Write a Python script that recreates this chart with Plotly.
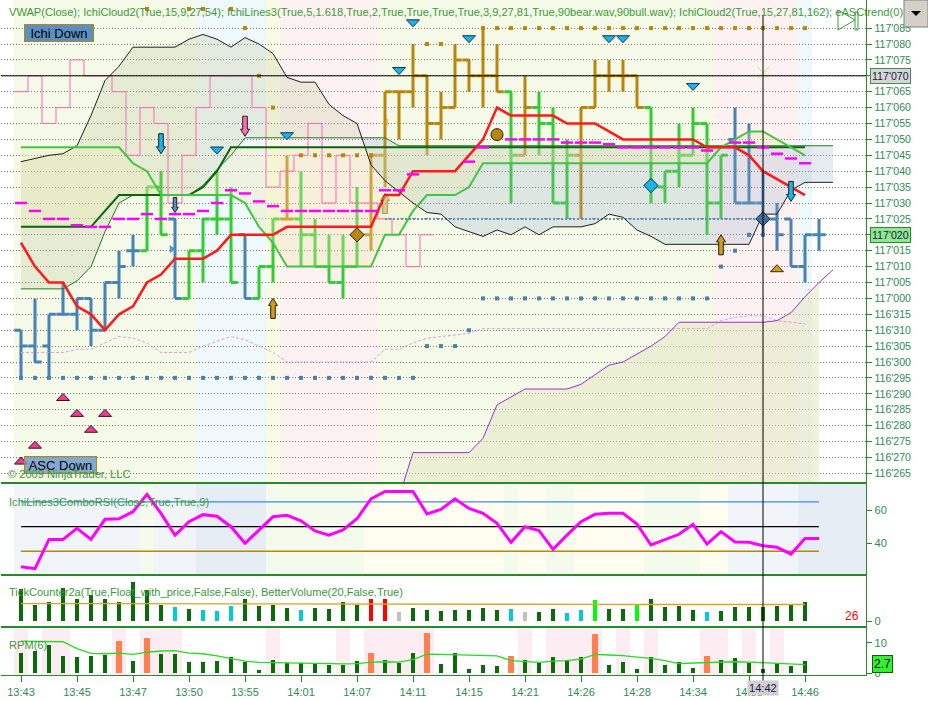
import plotly.graph_objects as go

# ================= DATA =================
# bar index (tick bars), price in 1/64 steps above 116'265
bar_idx = list(range(58))
opens  = [9, 8, 8, 10, 10, 11, 9, 12, 14, 14, 18, 16, 11, 14, 16, 16, 15, 11, 13, 16,
          16, 15, 13, 12, 13, 15, 20, 24, 24, 25, 22, 23, 26, 25, 25, 24, 20, 23, 22, 17,
          20, 23, 25, 25, 25, 23, 18, 19, 20, 22, 17, 21, 17, 17, 16, 16, 13, 15]
highs  = [9, 11, 10, 12, 11, 11, 12, 14, 15, 18, 19, 16, 14, 16, 19, 18, 15, 13, 16, 20,
          19, 16, 15, 15, 18, 20, 24, 24, 27, 25, 24, 27, 26, 28, 27, 24, 25, 24, 23, 21,
          23, 26, 26, 26, 25, 23, 19, 22, 23, 22, 20, 23, 22, 19, 17, 16, 15, 16]
lows   = [6, 7, 6, 10, 9, 8, 9, 11, 13, 14, 15, 11, 11, 12, 15, 12, 11, 11, 12, 16,
          13, 13, 12, 11, 13, 14, 18, 21, 23, 20, 21, 23, 24, 23, 24, 17, 20, 20, 17, 16,
          16, 23, 24, 24, 23, 17, 17, 18, 20, 15, 16, 17, 17, 15, 14, 13, 12, 14]
closes = [8, 7, 10, 10, 11, 9, 12, 13, 14, 18, 15, 11, 14, 16, 16, 12, 11, 13, 16, 16,
          15, 13, 12, 13, 15, 20, 24, 24, 25, 22, 23, 26, 25, 25, 24, 20, 23, 22, 17, 20,
          23, 25, 25, 25, 23, 18, 19, 20, 22, 17, 20, 17, 17, 16, 15, 13, 15, 15]
bar_trend = (["down"] * 9 + ["up"] * 2 + ["down"] + ["up"] * 4 + ["down"] + ["up"] * 2 + ["hold"]
             + ["up"] * 5 + ["hold"] * 10 + ["up"] + ["hold"] + ["up"] * 3 + ["hold"] * 5
             + ["up"] * 6 + ["down"] * 7)

price_ticks = list(range(29))
price_labels = ["116'265", "116'270", "116'275", "116'280", "116'285", "116'290", "116'295",
                "116'300", "116'305", "116'310", "116'315", "117'000", "117'005", "117'010",
                "117'015", "117'020", "117'025", "117'030", "117'035", "117'040", "117'045",
                "117'050", "117'055", "117'060", "117'065", "117'070", "117'075", "117'080",
                "117'085"]

# Ichimoku / overlay lines (per bar)
span_black = [19.6, 19.8, 20.0, 20.1, 20.6, 22.5, 24.7, 25.6, 26.8, 26.8, 26.8, 26.8, 27.3, 27.6,
              27.3, 26.8, 27.4, 27.0, 26.4, 24.9, 24.6, 24.6, 23.2, 22.5, 22.0, 19.4, 18.4, 17.7,
              17.0, 16.4, 16.3, 15.5, 15.2, 14.9, 15.3, 15.0, 15.5, 15.0, 15.5, 15.5, 15.5, 15.7,
              16.3, 16.1, 15.3, 14.9, 14.4, 14.4, 14.4, 14.4, 14.4, 14.4, 14.4, 16.3, 16.3, 17.8,
              18.3, 18.3, 18.3]
span_thin = [11.6, 11.6, 11.6, 11.6, 12.1, 13.0, 15.2, 17.0, 17.5, 17.5, 17.5, 17.5, 17.5, 18.1,
             19.1, 20.0, 21.1, 21.1, 21.1, 21.1, 21.1, 21.1, 21.1, 21.1, 21.1, 21.1, 21.1, 20.6,
             20.6, 20.6, 20.6, 20.6, 20.6, 20.6, 20.6, 20.6, 20.6, 20.6, 20.6, 20.6, 20.6, 20.6,
             20.6, 20.6, 20.6, 20.6, 20.6, 20.6, 20.6, 20.6, 20.6, 20.6, 20.6, 20.6, 20.6, 20.6,
             20.6, 20.6, 20.6]
kijun_dark = [15.5, 15.5, 15.5, 15.5, 15.5, 15.5, 16.5, 17.5, 17.5, 17.5, 17.5, 17.5, 17.5, 18,
              19, 20.5, 20.5, 20.5, 20.5, 20.5, 20.5, 20.5, 20.5, 20.5, 20.5, 20.5, 20.5, 20.5,
              20.5, 20.5, 20.5, 20.5, 20.5, 20.5, 20.5, 20.5, 20.5, 20.5, 20.5, 20.5, 20.5, 20.5,
              20.5, 20.5, 20.5, 20.5, 20.5, 20.5, 20.5, 20.5, 20.5, 20.5, 20.5, 20.5, 20.5, 20.5,
              20.5]
kijun_light = [20.5, 20.5, 20.5, 20.5, 20.5, 20.5, 20.5, 20.5, 19.5, 19, 17.5, 17.5, 17.5, 17.5,
               17.5, 17.5, 17, 15.5, 14.5, 13, 13, 13, 13, 13, 13, 13, 15, 15, 16.5, 17.5, 17.5,
               17.5, 18, 19.5, 19.5, 19.5, 19.5, 19.5, 19.5, 19.5, 19.5, 19.5, 19.5, 19.5, 19.5,
               19.5, 19.5, 19.5, 19.5, 19.5, 20.5, 21, 21.5, 21.5, 21, 20.5, 20]
tenkan_red = [14.5, 13, 12, 12, 10.5, 10, 9, 10, 10.5, 12, 12.5, 13.5, 13.5, 13.5, 14, 15, 15, 15,
              15, 15.5, 15.5, 15.5, 15.5, 15.5, 15.5, 15.5, 17.5, 17.5, 19, 19, 19, 19, 20, 21,
              23, 22.5, 22.5, 22.5, 22.5, 22, 22, 22, 21.5, 21, 21, 21, 21, 21, 21, 20.5, 20.5,
              20.5, 20, 19, 18.5, 18, 17.5]
chikou_pink = [24, 25, 22, 23, 26, 25, 25, 24, 20, 23, 22, 17, 20, 23, 25, 25, 25, 23, 18, 19,
               20, 22, 17, 20, 17, 17, 16, 15, 13, 15]
kijun_dash = [17, 16.5, 16, 16, 15.6, 15.5, 15.5, 16, 16, 16.3, 16, 16.3, 16.3, 16.5, 17, 17.8,
              17.6, 17.1, 16.8, 16.5, 16.5, 16.5, 16.5, 16.5, 16.5, 16.5, 17.8, 17.8, 18.8, None,
              None, None, 19.6, 20.5, 21.2, 21.0, 21.0, 21.0, 21.0, 20.8, 20.8, 20.8, 20.7, 20.5,
              20.5, 20.5, 20.5, 20.5, 20.5, 20.3, None, 20.8, 20.8, 20.5, 20.1, 19.8, 19.5]
vwap_plum = [7.6, 7.6, 7.6, 7.6, 7.8, 7.8, 8.2, 8.6, 8.5, 8.2, 7.6, 7.6, 7.6, 8.0, 8.3, 8.6, 8.4,
             8.0, 7.6, 7.0, 7.0, 7.0, 7.0, 7.0, 7.0, 7.0, 7.8, 7.8, 8.2, 8.5, 8.6, 8.7, 8.8, 9.1,
             9.1, 9.1, 9.1, 9.1, 9.1, 9.1, 9.1, 9.1, 9.1, 9.1, 9.1, 9.1, 9.1, 9.1, 9.1, 9.1, 9.6,
             9.8, 9.9, 9.9, 9.6, 9.5, 9.4]
purple_x = list(range(27, 59))
purple_v = [-1.5, 1.3, 1.3, 1.3, 1.3, 1.3, 2.2, 4.3, 4.8, 5.3, 5.3, 5.3, 5.3, 5.6, 6.2, 6.8, 7.0,
            7.5, 8.0, 8.6, 9.5, 9.5, 9.5, 9.5, 9.5, 9.5, 9.5, 9.6, 10.1, 11.1, 12.0, 12.8]
stop_blue = [6] * 29 + [8, 8, 8, 9] + [11] * 17 + [13, 14, 15, 15]
stop_gold_x = [9, 12, 13, 15, 16, 17, 18, 20, 21, 22, 23, 24, 25, 29, 30] + list(range(33, 57))
stop_gold_v = [29.2, 29.2, 29.2, 29.2, 28, 25, 23, 20, 20, 20, 20, 20, 20, 27, 27] + [28] * 24
ichi_level_x = [26, 53]
ichi_level_v = [16, 16]

# signal markers
tri_down_x = [14, 19, 27, 28, 32, 42, 43, 48]
tri_down_v = [20.3, 21.2, 25.3, 28.3, 27.3, 27.3, 27.3, 24.3]
asc_up_x = [0, 1, 3, 4, 5, 6]
asc_up_v = [0.8, 1.8, 4.8, 3.8, 2.8, 3.8]
gold_up_x, gold_up_v = [54], [12.9]
arrows = [  # bar, tip value, direction, kind
    (10, 20.1, "down", "cyan"), (11, 16.4, "down", "steel"), (16, 21.2, "down", "pink"),
    (55, 17.1, "down", "cyan"), (18, 11.0, "up", "gold"), (50, 15.0, "up", "gold"),
    (26, 17.6, "up", "goldfaint")]
diamonds = [(45, 18.1, "cyan"), (53, 16.0, "steel"), (24, 15.0, "gold")]
circle_x, circle_v = [34], [21.3]

# lower panels
rsi = [25.6, 24.4, 42.2, 42.2, 48.9, 42.2, 54.4, 54.7, 59, 69.5, 58, 44.7, 52.9, 57.2, 56.2,
       49.9, 39.8, 47.9, 55.9, 56.8, 53.5, 47.3, 44.7, 47.9, 54.7, 66.8, 71.3, 71.3, 71.3, 57.6,
       60.4, 66.8, 61.0, 58, 51.9, 40.4, 49.9, 47.5, 36.2, 44.8, 52.9, 57.4, 58, 58, 51.5, 38.8,
       42.2, 45.3, 51.3, 39.4, 46.9, 40.6, 40.4, 38.4, 37.4, 33.3, 42.8, 42.8]
rsi_levels = [65, 50, 35]
ticks_vol = [32, 16, 19, 33, 22, 26, 22, 19, 39, 31, 16, 14, 12, 11, 10, 15, 22, 15, 16, 13,
             11, 13, 12, 19, 16, 22, 22, 9, 13, 11, 10, 11, 11, 13, 11, 12, 9, 9, 12, 8,
             11, 21, 12, 12, 16, 22, 14, 15, 11, 9, 10, 14, 14, 14, 15, 16, 19]
ticks_type = ["n"] * 57
for _i in [11, 13, 14, 15, 20, 35, 39, 40, 49]:
    ticks_type[_i] = "low"
for _i in [25, 26]:
    ticks_type[_i] = "climax"
for _i in [27, 36]:
    ticks_type[_i] = "churn"
for _i in [41, 44]:
    ticks_type[_i] = "high"
ticks_avg = [17.3, 17.1, 17.0, 17.3, 17.3, 17.3, 17.3, 17.3, 17.3, 17.3, 17.3, 17.3, 17.3, 17.3,
             17.3, 17.3, 17.3, 17.3, 17.3, 17.3, 17.3, 17.3, 17.3, 17.3, 17.3, 17.3, 17.3, 17.3,
             17.3, 17.3, 17.3, 17.3, 17.3, 17.3, 17.3, 17.3, 17.3, 17.3, 17.3, 17.3, 17.3, 17.3,
             16.6, 16.5, 16.5, 16.5, 16.5, 16.5, 16.5, 16.5, 16.5, 16.5, 16.5, 16.5, 16.5, 16.5,
             16.5]
rpm = [6.5, 7.2, 9.4, 5.6, 5.3, 5.6, 5.9, 10.5, 4.2, 11.4, 6.2, 6.2, 3.6, 3.6, 4.2, 5.2, 3.6, 1.0,
       4.5, 3.5, 3.5, 3.5, 2.7, 2.7, 4.2, 6.8, 4.5, 3.5, 6.8, 13.0, 3.2, 6.8, 1.3, 2.9, 2.4, 5.6,
       4.5, 3.5, 5.5, 4.5, 5.3, 12.7, 2.9, 3.8, 1.6, 5.3, 2.9, 3.8, 1.8, 5.6, 4.5, 4.9, 3.5, 1.3,
       3.5, 2.4, 4.0]
rpm_spike = [7, 9, 25, 29, 35, 41, 49]
rpm_avg = [10.5, 10.5, 10.5, 10.3, 8.1, 6.5, 6.4, 6.6, 6.2, 6.9, 7.3, 7.4, 6.6, 6.4, 5.7, 4.9,
           4.0, 3.6, 3.5, 3.5, 3.5, 3.4, 3.1, 3.1, 3.2, 3.7, 3.8, 3.7, 4.5, 6.3, 6.2, 6.1, 6.1,
           6.0, 5.7, 4.2, 3.8, 3.6, 4.0, 4.2, 4.7, 6.2, 6.0, 5.8, 5.3, 4.9, 4.2, 3.2, 3.4, 3.6,
           3.8, 3.8, 3.7, 3.5, 3.4, 3.1, 2.9]
rpm_hot = [0, 2, 3, 7, 9, 10, 11, 18, 23, 25, 26, 27, 28, 29, 36, 38, 39, 40, 41, 43, 45, 49,
           50, 52, 54]

main_state = (["g"] * 13 + ["c"] * 5 + ["y"] + ["p"] * 7 + ["g"] * 24 + ["p"] * 6 + ["c"])
rsi_state = (["b1"] * 9 + ["g"] + ["b1"] * 3 + ["b2"] * 5 + ["g"] * 7 + ["y"] * 10 + ["g"]
             + ["y"] * 2 + ["g"] * 2 + ["y"] * 5 + ["g"] * 4 + ["y"] * 2 + ["b1"] * 5
             + ["b2"] * 5)

time_ticks = [0, 4, 8, 12, 16, 20, 24, 28, 32, 36, 40, 44, 48, 52, 56]
time_labels = ["13:43", "13:45", "13:47", "13:50", "13:55", "14:01", "14:07", "14:11", "14:15",
               "14:21", "14:26", "14:28", "14:34", "14:38", "14:46"]
cursor_bar, cursor_price = 53, 25
cursor_time = "14:42"
last_price = 15
rpm_last = "2.7"
ticks_left = "26"

# ================= STYLE =================
FONT = "Liberation Sans, Arial, sans-serif"
FS = 11.1
AX_GREEN = "#2a8a2a"
TXT_GREEN = "#2e8b57"
TITLE_GREEN = "#3a9a3a"
BAR_COL = {"down": "#4682b4", "up": "#32cd32", "hold": "#b8860b"}
MAIN_BG = {"g": "#f4f9e8", "c": "#eff8fa", "y": "#fafbe6", "p": "#fdf1f1"}
RSI_BG = {"b1": "#f1f5f9", "b2": "#e6edf5", "g": "#f4fbec", "y": "#fffdf0"}
TICK_COL = {"n": "#0b6b0b", "low": "#00ccd6", "climax": "#ff0000", "churn": "#c0c0c0",
            "high": "#00ff00"}
ARROW_COL = {"cyan": ("#18b4ea", 1.0), "steel": ("#5b8fc9", 1.0), "pink": ("#ff6fb0", 1.0),
             "gold": ("#d49a1c", 1.0), "goldfaint": ("#d49a1c", 0.45)}
DIAM_COL = {"cyan": "#1ab4e8", "steel": "#3f6f9f", "gold": "#b8860b"}
PX_X = 14.0    # px per bar
PX_V = 15.9    # px per price step

fig = go.Figure()


def band_shapes(states, colors, xref, yref):
    out = []
    start = 0
    for k in range(1, len(states) + 1):
        if k == len(states) or states[k] != states[start]:
            out.append(dict(type="rect", xref=xref, yref=yref, x0=start - 0.5, x1=k - 0.5,
                            y0=0, y1=1, fillcolor=colors[states[start]], line_width=0,
                            layer="below"))
            start = k
    return out


shapes = []
shapes += band_shapes(main_state, MAIN_BG, "x", "y domain")
shapes += band_shapes(rsi_state, RSI_BG, "x2", "y2 domain")
for b in rpm_hot:
    shapes.append(dict(type="rect", xref="x4", yref="y4 domain", x0=b - 0.5, x1=b + 0.5,
                       y0=0, y1=1, fillcolor="#fdedf2", line_width=0, layer="below"))


# ---------- cloud fills ----------
def split_regions(xs, a, b):
    regions, sign, top, bot = [], None, [], []
    for k in range(len(xs)):
        s = a[k] >= b[k]
        if sign is not None and s != sign:
            d0, d1 = a[k - 1] - b[k - 1], a[k] - b[k]
            t = d0 / (d0 - d1)
            xc = xs[k - 1] + t * (xs[k] - xs[k - 1])
            yc = a[k - 1] + t * (a[k] - a[k - 1])
            top.append((xc, yc)); bot.append((xc, yc))
            regions.append((sign, top, bot))
            top, bot = [(xc, yc)], [(xc, yc)]
        top.append((xs[k], a[k])); bot.append((xs[k], b[k]))
        sign = s
    regions.append((sign, top, bot))
    return regions


xs_span = list(range(len(span_black)))
for sgn, top, bot in split_regions(xs_span, span_black, span_thin):
    px = [p[0] for p in top] + [p[0] for p in reversed(bot)]
    py = [p[1] for p in top] + [p[1] for p in reversed(bot)]
    fig.add_trace(go.Scatter(x=px, y=py, mode="lines", fill="toself", line_width=0,
                             fillcolor="rgba(190,195,145,0.24)" if sgn else "rgba(150,172,200,0.24)",
                             hoverinfo="skip", showlegend=False))

xs_k = list(range(len(kijun_dark)))
fig.add_trace(go.Scatter(x=xs_k, y=kijun_dark, mode="lines", line_width=0, hoverinfo="skip",
                         showlegend=False))
fig.add_trace(go.Scatter(x=xs_k, y=kijun_light, mode="lines", line_width=0, fill="tonexty",
                         fillcolor="rgba(236,232,175,0.32)", hoverinfo="skip", showlegend=False))

# area under purple
fig.add_trace(go.Scatter(x=purple_x[:-1], y=[-1.5] * (len(purple_x) - 1), mode="lines",
                         line_width=0, hoverinfo="skip", showlegend=False))
fig.add_trace(go.Scatter(x=purple_x[:-1], y=purple_v[:-1], mode="lines", line_width=0,
                         fill="tonexty", fillcolor="rgba(228,232,195,0.55)", hoverinfo="skip",
                         showlegend=False))


# ---------- lines ----------
def line(x, y, color, width, dash=None, shape=None, **kw):
    fig.add_trace(go.Scatter(x=x, y=y, mode="lines",
                             line=dict(color=color, width=width, dash=dash,
                                       shape=shape or "linear"),
                             hoverinfo="skip", showlegend=False, **kw))


line(list(range(len(vwap_plum))), vwap_plum, "#dda0dd", 1, dash="3px,2px")
line(purple_x, purple_v, "#9b30d0", 1)
pink_x = [i - 0.5 for i in range(len(chikou_pink))] + [len(chikou_pink) - 0.5]
line(pink_x, chikou_pink + [chikou_pink[-1]], "#ff69b4", 1, shape="hv")
line(ichi_level_x, ichi_level_v, "#5b8fc9", 2, dash="2px,2px")
line(xs_span, span_thin, "#1f7a1f", 1)
line(xs_span, span_black, "#202020", 1)
line(xs_k, kijun_dark, "#0a640a", 2)
line(xs_k, kijun_light, "#44c444", 2)
line(list(range(len(tenkan_red))), tenkan_red, "#ff1a1a", 2.5)

# ---------- price bars ----------
for trend, col in BAR_COL.items():
    sel = [i for i in bar_idx if bar_trend[i] == trend]
    fig.add_trace(go.Ohlc(x=sel, open=[opens[i] for i in sel], high=[highs[i] for i in sel],
                          low=[lows[i] for i in sel], close=[closes[i] for i in sel],
                          increasing=dict(line=dict(color=col, width=3)),
                          decreasing=dict(line=dict(color=col, width=3)),
                          tickwidth=0.48, hoverinfo="skip", showlegend=False))

# kijun dashes
dx, dy = [], []
for i, v in enumerate(kijun_dash):
    if v is None:
        continue
    dx += [i - 0.43, i + 0.43, None]
    dy += [v, v, None]
line(dx, dy, "#ff00ff", 2.5)

# stop dots
fig.add_trace(go.Scatter(x=list(range(len(stop_blue))), y=stop_blue, mode="markers",
                         marker=dict(symbol="square", size=4, color="#4682b4"),
                         hoverinfo="skip", showlegend=False))
fig.add_trace(go.Scatter(x=stop_gold_x, y=stop_gold_v, mode="markers",
                         marker=dict(symbol="square", size=4, color="#b8860b"),
                         hoverinfo="skip", showlegend=False))

# diamonds / circle / small pointers
for b, v, k in diamonds:
    fig.add_trace(go.Scatter(x=[b], y=[v], mode="markers",
                             marker=dict(symbol="diamond", size=11, color=DIAM_COL[k],
                                         line=dict(color="#1a2a3a", width=1)),
                             hoverinfo="skip", showlegend=False))
fig.add_trace(go.Scatter(x=circle_x, y=circle_v, mode="markers",
                         marker=dict(symbol="circle", size=12, color="#b8860b",
                                     line=dict(color="#202020", width=1)),
                         hoverinfo="skip", showlegend=False))
fig.add_trace(go.Scatter(x=[10.75], y=[14.1], mode="markers",
                         marker=dict(symbol="triangle-right", size=7, color="#5b8fc9"),
                         hoverinfo="skip", showlegend=False))
fig.add_trace(go.Scatter(x=[26.1], y=[22.1], mode="markers",
                         marker=dict(symbol="triangle-left", size=7, color="#d49a1c", opacity=0.5),
                         hoverinfo="skip", showlegend=False))
fig.add_trace(go.Scatter(x=[cursor_bar], y=[cursor_price + 0.2], mode="markers",
                         marker=dict(symbol="x-thin-open", size=11,
                                     line=dict(color="#000000", width=1)),
                         hoverinfo="skip", showlegend=False))


def tri_path(x, v, w_px, h_px, up):
    hx, hv = w_px / 2 / PX_X, h_px / 2 / PX_V
    if up:
        return f"M {x-hx},{v-hv} L {x+hx},{v-hv} L {x},{v+hv} Z"
    return f"M {x-hx},{v+hv} L {x+hx},{v+hv} L {x},{v-hv} Z"


for x, v in zip(tri_down_x, tri_down_v):
    shapes.append(dict(type="path", xref="x", yref="y", path=tri_path(x, v, 13, 7, False),
                       fillcolor="#18b4ea", line=dict(color="#17324f", width=1)))
for x, v in zip(asc_up_x, asc_up_v):
    shapes.append(dict(type="path", xref="x", yref="y", path=tri_path(x, v, 13, 7, True),
                       fillcolor="#e8408c", line=dict(color="#3a1020", width=1)))
for x, v in zip(gold_up_x, gold_up_v):
    shapes.append(dict(type="path", xref="x", yref="y", path=tri_path(x, v, 13, 7, True),
                       fillcolor="#d49a1c", line=dict(color="#3a2a10", width=1)))


def arrow_path(x, tip, up, scale=1.0):
    hw, bw = 4.5 * scale / PX_X, 2.3 * scale / PX_X
    hh, H = 7 * scale / PX_V, 20 * scale / PX_V
    s = -1 if up else 1
    pts = [(x, tip), (x - hw, tip + s * hh), (x - bw, tip + s * hh), (x - bw, tip + s * H),
           (x + bw, tip + s * H), (x + bw, tip + s * hh), (x + hw, tip + s * hh)]
    return "M " + " L ".join(f"{a},{b}" for a, b in pts) + " Z"


for b, tip, d, kind in arrows:
    col, op = ARROW_COL[kind]
    sc = 0.75 if kind == "steel" else 1.0
    shapes.append(dict(type="path", xref="x", yref="y", path=arrow_path(b, tip, d == "up", sc),
                       fillcolor=col, opacity=op, line=dict(color="#202020", width=1)))

# crosshair
shapes.append(dict(type="line", xref="x domain", yref="y", x0=0, x1=1, y0=cursor_price,
                   y1=cursor_price, line=dict(color="#000000", width=1)))
shapes.append(dict(type="line", xref="x", yref="paper", x0=cursor_bar, x1=cursor_bar,
                   y0=-0.012, y1=0.978, line=dict(color="#000000", width=1)))

# ---------- RSI panel ----------
rx = list(range(len(rsi)))
for lv, col in zip(rsi_levels, ["#3c8ce0", "#000000", "#b8860b"]):
    fig.add_trace(go.Scatter(x=[rx[0], rx[-1]], y=[lv, lv], mode="lines",
                             line=dict(color=col, width=1.3), xaxis="x2", yaxis="y2",
                             hoverinfo="skip", showlegend=False))
fig.add_trace(go.Scatter(x=rx, y=rsi, mode="lines", line=dict(color="#ff00ff", width=3),
                         xaxis="x2", yaxis="y2", hoverinfo="skip", showlegend=False))

# ---------- tick counter / volume panel ----------
tx = list(range(len(ticks_vol)))
fig.add_trace(go.Bar(x=tx, y=ticks_vol, width=0.22,
                     marker=dict(color=[TICK_COL[t] for t in ticks_type], line_width=0),
                     xaxis="x3", yaxis="y3", hoverinfo="skip", showlegend=False))
fig.add_trace(go.Scatter(x=tx, y=ticks_avg, mode="lines", line=dict(color="#daa520", width=1.3),
                         xaxis="x3", yaxis="y3", hoverinfo="skip", showlegend=False))

# ---------- RPM panel ----------
px_ = list(range(len(rpm)))
fig.add_trace(go.Bar(x=px_, y=rpm,
                     width=[0.36 if i in rpm_spike else 0.22 for i in px_],
                     marker=dict(color=["#ff7f50" if i in rpm_spike else "#0b6b0b" for i in px_],
                                 line_width=0),
                     xaxis="x4", yaxis="y4", hoverinfo="skip", showlegend=False))
fig.add_trace(go.Scatter(x=px_, y=rpm_avg, mode="lines", line=dict(color="#22dd22", width=1.3),
                         xaxis="x4", yaxis="y4", hoverinfo="skip", showlegend=False))

# ---------- layout ----------
W, H = 928, 701
ML, MR, MT, MB = 1, 62, 0, 26
PW, PH = W - ML - MR, H - MT - MB


def pxx(p):
    return (p - ML) / PW


def pxy(p):
    return (PH + MT - p) / PH


XR = [(ML - 21) / PX_X, (W - MR - 21) / PX_X]
dom_main = [pxy(483), 1]
dom_rsi = [pxy(575), pxy(483)]
dom_tick = [pxy(627), pxy(575)]
dom_rpm = [0, pxy(627)]

xcommon = dict(range=XR, showgrid=False, zeroline=False, showline=True, mirror=True,
               linecolor=AX_GREEN, linewidth=1.3, fixedrange=True)
ycommon = dict(side="right", showline=True, linecolor=AX_GREEN, linewidth=1.3, ticks="outside",
               ticklen=5, tickcolor=AX_GREEN, zeroline=False, fixedrange=True,
               tickfont=dict(family=FONT, size=FS, color=TXT_GREEN))

fig.update_layout(
    width=W, height=H, margin=dict(l=ML, r=MR, t=MT, b=MB),
    paper_bgcolor="#ffffff", plot_bgcolor="#ffffff", hovermode=False, showlegend=False,
    font=dict(family=FONT),
    xaxis=dict(xcommon, anchor="y", showticklabels=False, ticks="",
               rangeslider=dict(visible=False)),
    xaxis2=dict(xcommon, anchor="y2", matches="x", showticklabels=False, ticks=""),
    xaxis3=dict(xcommon, anchor="y3", matches="x", showticklabels=False, ticks=""),
    xaxis4=dict(xcommon, anchor="y4", matches="x", ticks="outside", ticklen=6,
                tickcolor=AX_GREEN, tickvals=time_ticks, ticktext=time_labels,
                tickfont=dict(family=FONT, size=FS, color=TXT_GREEN)),
    yaxis=dict(ycommon, domain=dom_main, anchor="x",
               range=[-(483 - 473.3) / PX_V, 473.3 / PX_V],
               tickvals=price_ticks, ticktext=price_labels, showgrid=True,
               gridcolor="#7a7a7a", gridwidth=1, griddash="1px,2px",
               tickfont=dict(family=FONT, size=10.6, color=TXT_GREEN)),
    yaxis2=dict(ycommon, domain=dom_rsi, anchor="x2", range=[20.6, 76.4], tickvals=[40, 60],
                showgrid=False),
    yaxis3=dict(ycommon, domain=dom_tick, anchor="x3", range=[-6, 46], tickvals=[0],
                showgrid=False),
    yaxis4=dict(ycommon, domain=dom_rpm, anchor="x4", range=[-0.5, 15.1], tickvals=[0, 10],
                showgrid=False),
    bargap=0,
)

# chrome: play icon + dropdown button
shapes.append(dict(type="path", xref="paper", yref="paper",
                   path=f"M {pxx(838)},{pxy(10)} L {pxx(855)},{pxy(20)} L {pxx(838)},{pxy(30)} Z",
                   line=dict(color="#3c9a3c", width=1), fillcolor="rgba(0,0,0,0)"))
shapes.append(dict(type="rect", xref="paper", yref="paper", x0=pxx(855), x1=pxx(858),
                   y0=pxy(30), y1=pxy(12), line=dict(color="#3c9a3c", width=1)))
shapes.append(dict(type="rect", xref="paper", yref="paper", x0=pxx(904), x1=pxx(928),
                   y0=pxy(27), y1=pxy(0), fillcolor="#d4d0c8",
                   line=dict(color="#808080", width=1)))
shapes.append(dict(type="path", xref="paper", yref="paper",
                   path=f"M {pxx(911)},{pxy(11)} L {pxx(921)},{pxy(11)} L {pxx(916)},{pxy(16)} Z",
                   fillcolor="#000000", line_width=0))
fig.update_layout(shapes=shapes)

title_text = ("VWAP(Close); IchiCloud2(True,15,9,27,54); IchiLines3(True,5,1.618,True,2,True,True,"
              "True,True,3,9,27,81,True,90bear.wav,90bull.wav); IchiCloud2(True,15,27,81,162); "
              "eASCtrend(0)")
ann = [
    dict(text=title_text, xref="paper", yref="paper", x=pxx(7), y=pxy(12), xanchor="left",
         yanchor="middle", showarrow=False, font=dict(family=FONT, size=FS, color=TITLE_GREEN)),
    dict(text="Ichi Down", xref="paper", yref="paper", x=pxx(59.5), y=pxy(33.5),
         xanchor="center", yanchor="middle", showarrow=False, width=66, height=14,
         bgcolor="#5a8fc4", bordercolor="#b8860b", borderwidth=1, borderpad=1,
         font=dict(family=FONT, size=13, color="#000000")),
    dict(text="ASC Down", xref="paper", yref="paper", x=pxx(61), y=pxy(465), xanchor="center",
         yanchor="middle", showarrow=False, width=69, height=14,
         bgcolor="rgba(110,155,205,0.85)", bordercolor="#b8860b", borderwidth=1, borderpad=1,
         font=dict(family=FONT, size=13, color="#000000")),
    dict(text="© 2009 NinjaTrader, LLC", xref="paper", yref="paper", x=pxx(6), y=pxy(474),
         xanchor="left", yanchor="middle", showarrow=False,
         font=dict(family=FONT, size=FS, color=TITLE_GREEN)),
    dict(text="IchiLines3ComboRSI(Close,True,True,9)", xref="paper", yref="paper", x=pxx(7),
         y=pxy(502), xanchor="left", yanchor="middle", showarrow=False,
         font=dict(family=FONT, size=FS, color=TITLE_GREEN)),
    dict(text="TickCounter2a(True,Float_with_price,False,False), BetterVolume(20,False,True)",
         xref="paper", yref="paper", x=pxx(7), y=pxy(592), xanchor="left", yanchor="middle",
         showarrow=False, font=dict(family=FONT, size=FS, color=TITLE_GREEN)),
    dict(text="RPM(6)", xref="paper", yref="paper", x=pxx(7), y=pxy(645), xanchor="left",
         yanchor="middle", showarrow=False, font=dict(family=FONT, size=FS, color=TITLE_GREEN)),
    dict(text=ticks_left, xref="paper", yref="y3", x=pxx(861), y=5, xanchor="right",
         yanchor="middle", showarrow=False, font=dict(family=FONT, size=12, color="#ff0000")),
    dict(text=price_labels[cursor_price], xref="paper", yref="y", x=1, xshift=4, y=cursor_price,
         xanchor="left", yanchor="middle", showarrow=False, bgcolor="#d6d6d6",
         bordercolor="#4a8a4a", borderwidth=1, borderpad=1,
         font=dict(family=FONT, size=10.6, color="#1a1a4a")),
    dict(text=price_labels[last_price], xref="paper", yref="y", x=1, xshift=4, y=last_price,
         xanchor="left", yanchor="middle", showarrow=False, bgcolor="#8fe88f",
         bordercolor="#2a8a2a", borderwidth=1, borderpad=1,
         font=dict(family=FONT, size=10.6, color="#1a1a4a")),
    dict(text=rpm_last, xref="paper", yref="y4", x=1, xshift=6, y=3.1, xanchor="left",
         yanchor="middle", showarrow=False, bgcolor="#33ee33", bordercolor="#0a640a",
         borderwidth=1, borderpad=1, font=dict(family=FONT, size=12, color="#000000")),
    dict(text=cursor_time, xref="x4", yref="paper", x=cursor_bar, y=pxy(688),
         xanchor="center", yanchor="middle", showarrow=False, bgcolor="#d0d0d0",
         font=dict(family=FONT, size=FS, color="#1a1a4a")),
]
fig.update_layout(annotations=ann)

fig.write_html("out.html", config={"displayModeBar": False, "staticPlot": True},
               post_script="document.body.style.margin='0';document.body.style.padding='0';")
